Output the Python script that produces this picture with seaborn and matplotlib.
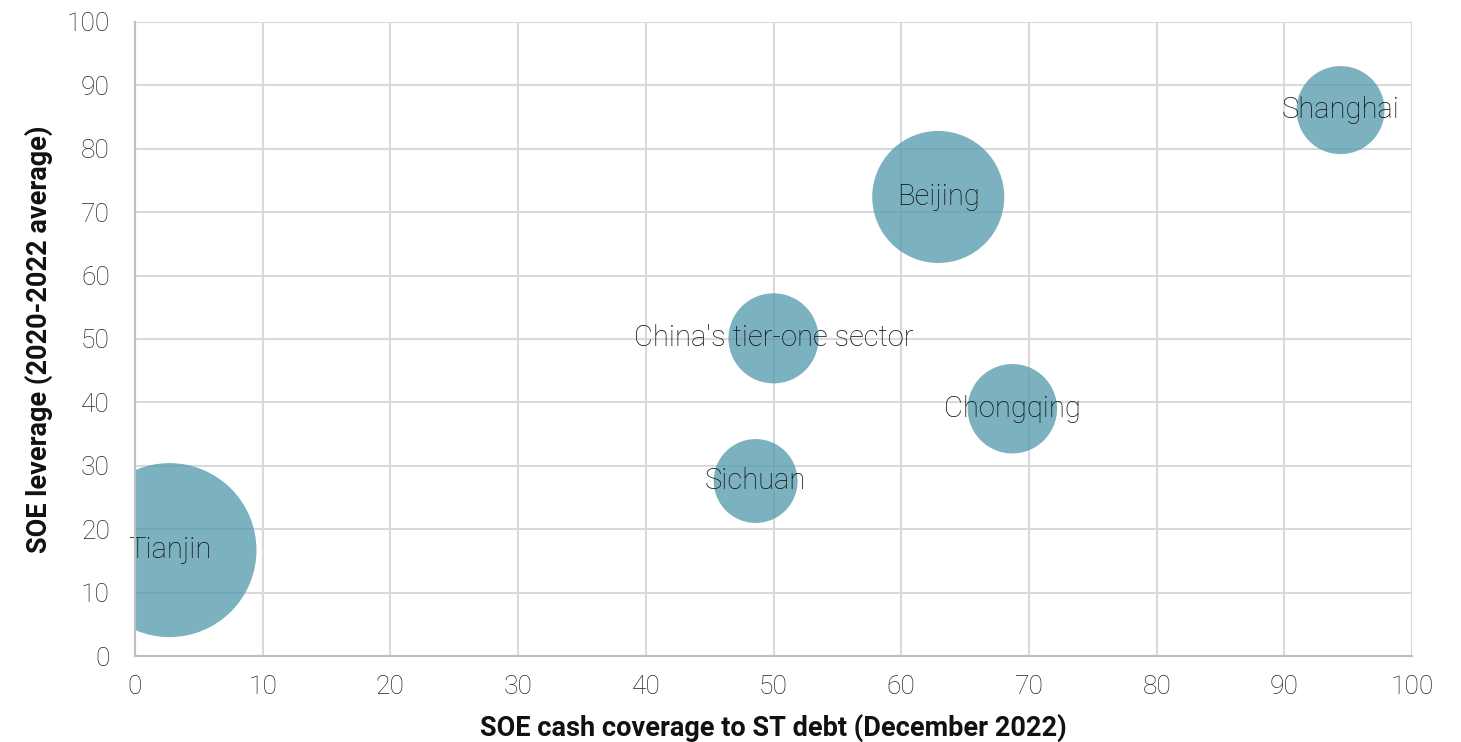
import matplotlib
matplotlib.use("Agg")
import matplotlib.pyplot as plt
import seaborn as sns
import pandas as pd

# Data
regions = ["Tianjin", "Sichuan", "China's tier-one sector", "Beijing", "Chongqing", "Shanghai"]
cash_coverage = [2.7, 48.6, 50.0, 62.9, 68.7, 94.4]
soe_leverage = [16.7, 27.6, 50.1, 72.4, 39.0, 86.1]
bubble_size = [75.7, 17.6, 20.3, 43.6, 20.0, 19.4]

x_ticks = list(range(0, 101, 10))
y_ticks = list(range(0, 101, 10))
x_label = "SOE cash coverage to ST debt (December 2022)"
y_label = "SOE leverage (2020-2022 average)"

df = pd.DataFrame({"region": regions, "x": cash_coverage, "y": soe_leverage, "size": bubble_size})

sns.set_theme(style="white")
plt.rcParams["font.family"] = ["Roboto", "DejaVu Sans"]

fig = plt.figure(figsize=(14.61, 7.42), dpi=100)
ax = fig.add_axes([0.0924, 0.1159, 0.8741, 0.8545])

pts_per_unit = 207.36  # marker area (pt^2) per unit of bubble size
sns.scatterplot(data=df, x="x", y="y", size="size", sizes=(0, 100 * pts_per_unit),
                size_norm=(0, 100), legend=False, ax=ax,
                color="#4F98AB", alpha=0.74, edgecolor="none", zorder=3)

for r, xv, yv in zip(regions, cash_coverage, soe_leverage):
    ax.text(xv, yv, r, ha="center", va="center", fontsize=21, color="#111111",
            fontweight="light", zorder=4)

ax.set_xlim(0, 100)
ax.set_ylim(0, 100)
ax.set_xticks(x_ticks)
ax.set_yticks(y_ticks)
ax.set_xticklabels([str(t) for t in x_ticks])
ax.set_yticklabels([str(t) for t in y_ticks])
ax.grid(True, color="#D9D9D9", linewidth=1.5, zorder=0)
ax.set_axisbelow(True)
for side in ["top", "right"]:
    ax.spines[side].set_visible(False)
for side in ["left", "bottom"]:
    ax.spines[side].set_color("#BFBFBF")
    ax.spines[side].set_linewidth(1.5)
    ax.spines[side].set_zorder(5)
ax.tick_params(axis="y", length=0, labelsize=19, labelcolor="#262626", pad=18)
ax.tick_params(axis="x", length=0, labelsize=19, labelcolor="#262626", pad=14)
for lab in ax.get_xticklabels() + ax.get_yticklabels():
    lab.set_fontweight("light")

ax.set_xlabel(x_label, fontsize=19.5, fontweight="bold", color="#111111", labelpad=10)
ax.set_ylabel(y_label, fontsize=19.5, fontweight="bold", color="#111111", labelpad=10)

fig.savefig("out.png", dpi=100)
